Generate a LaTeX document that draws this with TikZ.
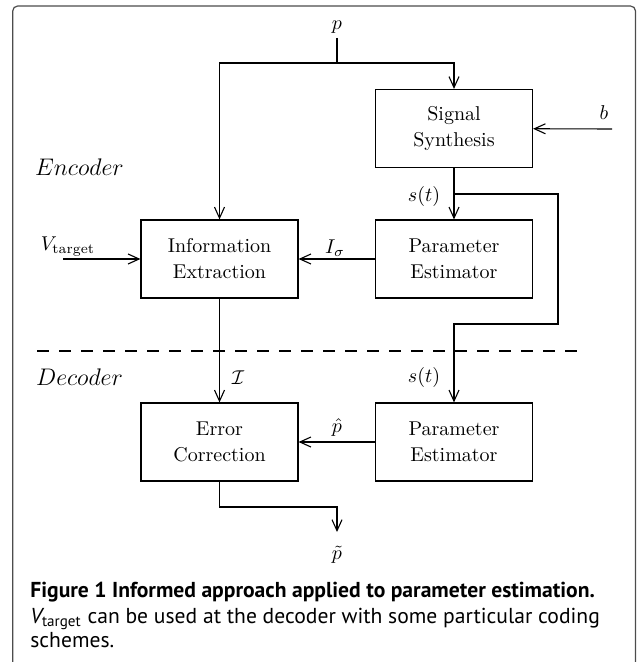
\documentclass[tikz,border=0pt]{standalone}
\usepackage{fontspec}
\newfontfamily\capfont{PT Sans}
\usetikzlibrary{arrows.meta}
\begin{document}
\begin{tikzpicture}[x=0.5pt, y=-0.5pt,
    block/.style = {draw, line width=0.6pt, minimum width=78.5pt, minimum height=39pt,
                    align=center, font=\fontsize{10}{13}\selectfont},
    wire/.style = {line width=0.55pt},
    side/.style = {font=\large},
    capline/.style = {anchor=base west, inner sep=0pt, font=\capfont\fontsize{10.8}{12.5}\selectfont},
    >={Straight Barb[length=5.5pt,width=5pt]}]
  \useasboundingbox (0,0) rectangle (637,662);
  % frame
  \draw[line width=0.6pt, black!70, rounded corners=2.5pt]
    (12.7,680) -- (12.7,6) -- (635.5,6) -- (635.5,680);
  %
  \node[block] (info) at (219.5,259) {Information\\Extraction};
  \node[block] (synth) at (454,128.5) {Signal\\Synthesis};
  \node[block] (estEnc) at (454,259) {Parameter\\Estimator};
  \node[block] (corr) at (219.5,442) {Error\\Correction};
  \node[block] (estDec) at (454,442) {Parameter\\Estimator};
  %
  \coordinate (pIn) at (337,38);
  \coordinate (pJoin) at (337,63);
  \coordinate (bIn) at (612,129);
  \coordinate (vIn) at (63,259);
  \coordinate (sBranch) at (454,194);
  \coordinate (loopEnd) at (558,324);
  \coordinate (outBend) at (337,507);
  \coordinate (pOut) at (337,532);
  \coordinate (cutL) at (37,351);
  \coordinate (cutR) at (584,351);
  %
  \node at (337,27) {$p$};
  \node at (604,113) {$b$};
  \node at (68,247) {$V_{\mathrm{target}}$};
  \node at (335,248) {$I_\sigma$};
  \node at (424,197) {$s(t)$};
  \node at (238,378) {$\mathcal{I}$};
  \node at (424,377) {$s(t)$};
  \node at (337,427) {$\hat{p}$};
  \node at (337,555) {$\tilde{p}$};
  \node[side] at (79.5,167) {$Encoder$};
  \node[side] at (79.5,377) {$Decoder$};
  %
  \draw[wire] (pIn) -- (pJoin);
  \draw[wire,->] (pJoin) -| (info);
  \draw[wire,->] (pJoin) -| (synth);
  \draw[wire,->] (bIn) -- (synth);
  \draw[wire,->] (synth) -- (estEnc);
  \draw[wire,->] (sBranch) -| (loopEnd) -| (estDec);
  \draw[wire,->] (vIn) -- (info);
  \draw[wire,->] (estEnc) -- (info);
  \draw[wire,->] (info) -- (corr);
  \draw[wire,->] (estDec) -- (corr);
  \draw[wire,->] (corr) |- (outBend) -- (pOut);
  \draw[line width=1.25pt, dash pattern=on 6pt off 5pt] (cutL) -- (cutR);
  %
  \node[capline] (capA) at (30,597) {\bfseries Figure 1 Informed approach applied to parameter estimation.};
  \node[capline] (capB) at (30,623) {{\itshape V}\textsubscript{target} can be used at the decoder with some particular coding};
  \node[capline] (capC) at (30,647) {schemes.};
\end{tikzpicture}
\end{document}
